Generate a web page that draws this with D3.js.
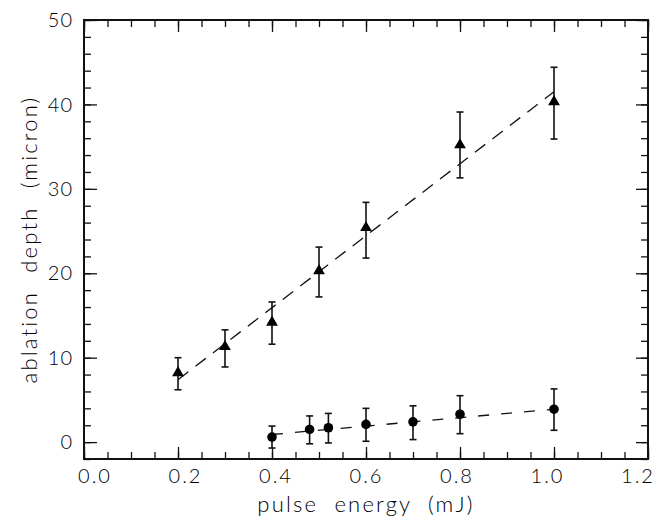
<!DOCTYPE html>
<html>
<head>
<meta charset="utf-8">
<script src="https://cdn.jsdelivr.net/npm/d3@7"></script>
<style>
  body { margin: 0; background: #fff; }
  svg text { font-family: Lato, "Liberation Sans", sans-serif; font-weight: 300; fill: #000; }
</style>
</head>
<body>
<div id="chart"></div>
<script>
// triangles (upper series)
const energyTri = [0.2, 0.3, 0.4, 0.5, 0.6, 0.8, 1.0];
const depthTri = [8.2, 11.3, 14.2, 20.3, 25.4, 35.2, 40.3];
const lowTri = [6.2, 8.9, 11.6, 17.2, 21.8, 31.3, 35.9];
const highTri = [10.0, 13.3, 16.6, 23.1, 28.4, 39.1, 44.4];
const fitTri = [[0.2, 7.4], [1.0, 41.5]];

// circles (lower series)
const energyDot = [0.4, 0.48, 0.52, 0.6, 0.7, 0.8, 1.0];
const depthDot = [0.6, 1.5, 1.7, 2.1, 2.4, 3.3, 3.9];
const lowDot = [-0.7, -0.2, -0.1, 0.1, 0.3, 1.0, 1.4];
const highDot = [1.9, 3.1, 3.4, 4.0, 4.3, 5.5, 6.3];
const fitDot = [[0.4, 0.9], [1.0, 3.9]];

const xMajor = [0, 0.2, 0.4, 0.6, 0.8, 1.0, 1.2];
const xMinor = d3.range(0, 1.2001, 0.05);
const yMajor = [0, 10, 20, 30, 40, 50];
const yMinor = d3.range(-2, 50.001, 2);

let margin = {top: 20, right: 15, bottom: 61, left: 84};
let width = 663 - margin.left - margin.right;
let height = 520 - margin.top - margin.bottom;

let x = d3.scaleLinear().domain([0, 1.2]).range([0, width]);
let y = d3.scaleLinear().domain([-2, 50]).range([height, 0]);

let svg = d3.select('#chart').append('svg')
    .attr('width', 663)
    .attr('height', 520)
  .append('g')
    .attr('transform', 'translate(' + margin.left + ',' + margin.top + ')');

// ticks on all four sides, pointing inwards
function tickAxis(axis, vals, size, tx, ty){
    let g = svg.append('g')
        .attr('transform', 'translate(' + tx + ',' + ty + ')')
        .call(axis.tickValues(vals).tickSize(size).tickFormat(''));
    g.select('.domain').remove();
    g.selectAll('line').attr('stroke', '#111').attr('stroke-width', 1.3);
    return g;
}
const fmtX = d3.format('.1f');
tickAxis(d3.axisBottom(x), xMinor, -7, 0, height);
tickAxis(d3.axisBottom(x), xMajor, -12, 0, height);
tickAxis(d3.axisTop(x), xMinor, -7, 0, 0);
tickAxis(d3.axisTop(x), xMajor, -12, 0, 0);
tickAxis(d3.axisLeft(y), yMinor, -7, 0, 0);
tickAxis(d3.axisLeft(y), yMajor, -13, 0, 0);
tickAxis(d3.axisRight(y), yMinor, -7, width, 0);
tickAxis(d3.axisRight(y), yMajor, -12, width, 0);

// tick labels
svg.append('g').selectAll('text')
    .data(xMajor).enter().append('text')
    .attr('x', d => x(d) + 11 - 21 * d / 1.2)
    .attr('y', height + 24)
    .attr('text-anchor', 'middle')
    .attr('font-size', 20)
    .attr('letter-spacing', 2)
    .text(d => fmtX(d));

svg.append('g').selectAll('text')
    .data(yMajor).enter().append('text')
    .attr('x', -11)
    .attr('y', d => y(d))
    .attr('dy', '0.36em')
    .attr('text-anchor', 'end')
    .attr('font-size', 20)
    .attr('letter-spacing', 1)
    .text(d => d);

// frame
svg.append('rect')
    .attr('width', width).attr('height', height)
    .attr('fill', 'none').attr('stroke', '#111').attr('stroke-width', 2);

// axis titles
svg.append('text')
    .attr('x', width / 2).attr('y', height + 53)
    .attr('text-anchor', 'middle').attr('font-size', 22)
    .attr('letter-spacing', 2.2).attr('word-spacing', 8)
    .text('pulse energy (mJ)');
svg.append('text')
    .attr('transform', 'translate(-47,' + (height / 2) + ')rotate(-90)')
    .attr('text-anchor', 'middle').attr('font-size', 22)
    .attr('letter-spacing', 2.2).attr('word-spacing', 10)
    .text('ablation depth (micron)');

// fit lines
let line = d3.line().x(d => x(d[0])).y(d => y(d[1]));
svg.append('path').datum(fitTri).attr('d', line)
    .attr('fill', 'none').attr('stroke', '#111').attr('stroke-width', 1.3)
    .attr('stroke-dasharray', '13,9');
svg.append('path').datum(fitDot).attr('d', line)
    .attr('fill', 'none').attr('stroke', '#111').attr('stroke-width', 1.3)
    .attr('stroke-dasharray', '11,12');

// error bars
function errorBars(xs, lo, hi){
    let g = svg.append('g').attr('stroke', '#111').attr('stroke-width', 1.6);
    xs.forEach((e, i) => {
        g.append('line').attr('x1', x(e)).attr('x2', x(e)).attr('y1', y(lo[i])).attr('y2', y(hi[i]));
        g.append('line').attr('x1', x(e) - 3.5).attr('x2', x(e) + 3.5).attr('y1', y(lo[i])).attr('y2', y(lo[i]));
        g.append('line').attr('x1', x(e) - 3.5).attr('x2', x(e) + 3.5).attr('y1', y(hi[i])).attr('y2', y(hi[i]));
    });
}
errorBars(energyTri, lowTri, highTri);
errorBars(energyDot, lowDot, highDot);

// markers
svg.append('g').selectAll('path')
    .data(energyTri).enter().append('path')
    .attr('d', d3.symbol(d3.symbolTriangle, 60))
    .attr('transform', (d, i) => 'translate(' + x(d) + ',' + y(depthTri[i]) + ')')
    .attr('fill', '#000');

svg.append('g').selectAll('circle')
    .data(energyDot).enter().append('circle')
    .attr('cx', d => x(d))
    .attr('cy', (d, i) => y(depthDot[i]))
    .attr('r', 4.8)
    .attr('fill', '#000');
</script>
</body>
</html>
